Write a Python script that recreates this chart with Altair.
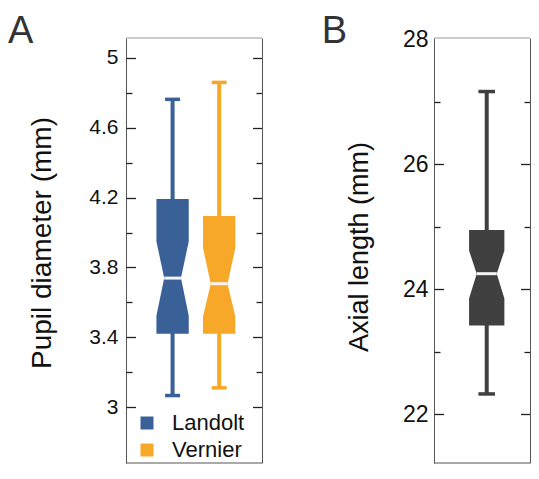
import altair as alt
import pandas as pd

# ---------------- data ----------------
A_GROUPS = ["Landolt", "Vernier"]
A_COLORS = ["#3a6098", "#f8a828"]
A_WHISK_LO = [3.067, 3.111]
A_Q1 = [3.420, 3.421]
A_NOTCH_LO = [3.524, 3.520]
A_MEDIAN = [3.739, 3.707]
A_NOTCH_HI = [3.949, 3.911]
A_Q3 = [4.192, 4.095]
A_WHISK_HI = [4.762, 4.859]
A_DOMAIN = [2.681, 5.113]
A_LABEL_TICKS = [3.0, 3.4, 3.8, 4.2, 4.6, 5.0]
A_ALL_TICKS = [3.0, 3.2, 3.4, 3.6, 3.8, 4.0, 4.2, 4.4, 4.6, 4.8, 5.0]

B_GROUPS = ["Axial"]
B_COLORS = ["#404040"]
B_WHISK_LO = [22.325]
B_Q1 = [23.42]
B_NOTCH_LO = [23.853]
B_MEDIAN = [24.248]
B_NOTCH_HI = [24.616]
B_Q3 = [24.948]
B_WHISK_HI = [27.16]
B_DOMAIN = [21.221, 28.016]
B_LABEL_TICKS = [22, 24, 26, 28]
B_ALL_TICKS = [22, 23, 24, 25, 26, 27]

# horizontal layout in a shared x unit (panel slots)
X_DOMAIN = [0.0, 8.673]
A_CENTERS = [1.0, 2.0]
B_CENTERS = [7.744]
A_FRAME = [0.0, 2.92]
B_FRAME = [6.612, 8.673]

W, H = 404, 425
FONT = "Liberation Sans"
DARK = "#555555"

XSC = alt.Scale(domain=X_DOMAIN, nice=False, zero=False)


def px(v):
    return (v - X_DOMAIN[0]) / (X_DOMAIN[1] - X_DOMAIN[0]) * W


def tick_size(label_ticks, major, minor):
    test = "indexof([" + ",".join(str(v) for v in label_ticks) + "], datum.value) >= 0"
    return {"condition": {"test": test, "value": major}, "value": minor}


def panel_layers(groups, centers, colors, lo, q1, nlo, med, nhi, q3, hi,
                 y_domain, label_ticks, all_ticks, fmt, frame, half, narrow,
                 cap, title, title_x, title_y, title_size, label_size,
                 label_pad, legend):
    box_rows, cap_rows, wh_rows, med_rows = [], [], [], []
    for i, g in enumerate(groups):
        c = centers[i]
        for yv, hw in [(q3[i], half), (nhi[i], half), (med[i], narrow),
                       (nlo[i], half), (q1[i], half)]:
            box_rows.append({"group": g, "y": yv, "xl": c - hw, "xr": c + hw})
        for yv in (lo[i], hi[i]):
            cap_rows.append({"group": g, "y": yv, "xl": c - cap, "xr": c + cap})
        wh_rows.append({"group": g, "x": c, "lo": lo[i], "hi": hi[i]})
        med_rows.append({"group": g, "y": med[i], "xl": c - narrow, "xr": c + narrow})
    frame_df = pd.DataFrame([{"xl": frame[0], "xr": frame[1],
                              "ylo": y_domain[0], "yhi": y_domain[1]}])

    ysc = alt.Scale(domain=y_domain, nice=False, zero=False)
    ax_left = px(frame[0])
    ax_right = px(frame[1])

    label_axis = alt.Axis(orient="left", offset=-ax_left, values=label_ticks,
                          format=fmt, title=title, titleX=title_x,
                          titleY=title_y, titleAngle=-90,
                          titleBaseline="alphabetic", titleAlign="center",
                          titleFont=FONT, titleFontSize=title_size,
                          titleFontWeight="normal", titleColor="#111",
                          labelFont=FONT, labelFontSize=label_size,
                          labelColor="#111", labelPadding=label_pad,
                          ticks=False, domain=True, domainColor=DARK,
                          grid=False, labelFlush=False)
    left_ticks = alt.Axis(orient="right", offset=-(W - ax_left),
                          values=all_ticks, labels=False, domain=False,
                          title=None, grid=False, tickColor="#222",
                          tickWidth=1.3, tickSize=tick_size(label_ticks, 9.5, 6))
    right_ticks = alt.Axis(orient="left", offset=-ax_right, values=all_ticks,
                           labels=False, domain=True, domainColor=DARK,
                           title=None, grid=False, tickColor="#222",
                           tickWidth=1.3, tickSize=tick_size(label_ticks, 9.5, 6))

    if legend:
        color_scale = alt.Scale(domain=groups, range=colors)
        color_enc = alt.Color("group:N", scale=color_scale, legend=alt.Legend(
            orient="none", legendX=10, legendY=374, title=None,
            symbolType="square", symbolSize=169, symbolStrokeWidth=0,
            symbolOpacity=1, labelFont=FONT, labelFontSize=22,
            labelColor="#111", labelOffset=14, rowPadding=5, padding=0))
    else:
        color_enc = alt.value(colors[0])

    top = alt.Chart(frame_df).mark_rule(color="#999999", strokeWidth=1).encode(
        x=alt.X("xl:Q", scale=XSC, axis=None), x2="xr:Q",
        y=alt.Y("yhi:Q", scale=ysc, axis=None))
    bottom = alt.Chart(frame_df).mark_rule(color=DARK, strokeWidth=1).encode(
        x=alt.X("xl:Q", scale=XSC, axis=None), x2="xr:Q",
        y=alt.Y("ylo:Q", scale=ysc, axis=None))
    whisk = alt.Chart(pd.DataFrame(wh_rows)).mark_rule(strokeWidth=4).encode(
        x=alt.X("x:Q", scale=XSC, axis=None),
        y=alt.Y("lo:Q", scale=ysc, axis=label_axis),
        y2="hi:Q",
        color=color_enc,
    )
    caps = alt.Chart(pd.DataFrame(cap_rows)).mark_rule(strokeWidth=3.5).encode(
        x=alt.X("xl:Q", scale=XSC, axis=None),
        x2="xr:Q",
        y=alt.Y("y:Q", scale=ysc, axis=left_ticks),
        color=color_enc,
    )
    box = alt.Chart(pd.DataFrame(box_rows)).mark_area(
        orient="horizontal", opacity=1, interpolate="linear").encode(
        x=alt.X("xl:Q", scale=XSC, axis=None),
        x2="xr:Q",
        y=alt.Y("y:Q", scale=ysc, axis=right_ticks),
        color=color_enc,
        detail="group:N",
    )
    median = alt.Chart(pd.DataFrame(med_rows)).mark_rule(
        strokeWidth=3, color="#f4f4f4").encode(
        x=alt.X("xl:Q", scale=XSC, axis=None),
        x2="xr:Q",
        y=alt.Y("y:Q", scale=ysc, axis=None),
    )
    return [top, bottom, whisk, caps, box, median]


layers_a = panel_layers(A_GROUPS, A_CENTERS, A_COLORS, A_WHISK_LO, A_Q1,
                        A_NOTCH_LO, A_MEDIAN, A_NOTCH_HI, A_Q3, A_WHISK_HI,
                        A_DOMAIN, A_LABEL_TICKS, A_ALL_TICKS, "~g", A_FRAME,
                        0.347, 0.18, 0.161, "Pupil diameter (mm)", -76, 204.5,
                        28, 21, 8, True)
layers_b = panel_layers(B_GROUPS, B_CENTERS, B_COLORS, B_WHISK_LO, B_Q1,
                        B_NOTCH_LO, B_MEDIAN, B_NOTCH_HI, B_Q3, B_WHISK_HI,
                        B_DOMAIN, B_LABEL_TICKS, B_ALL_TICKS, "d", B_FRAME,
                        0.379, 0.215, 0.178, "Axial length (mm)", -66, 208.5,
                        27, 23, 6, False)

letters = [
    alt.Chart(alt.Data(values=[{}])).mark_text(
        text=t, font=FONT, fontSize=38, color="#333", align="left",
        baseline="alphabetic").encode(x=alt.value(xv), y=alt.value(5))
    for t, xv in [("A", -118), ("B", 195.7)]
]

chart = alt.layer(*layers_a, *layers_b, *letters).resolve_scale(
    y="independent").resolve_axis(y="independent").properties(
    width=W, height=H,
    padding={"left": 118, "top": 30, "right": 1, "bottom": 1},
    autosize=alt.AutoSizeParams(type="none"),
).configure_view(stroke=None)

chart.save("out.html", embed_options={"renderer": "svg", "actions": False})
